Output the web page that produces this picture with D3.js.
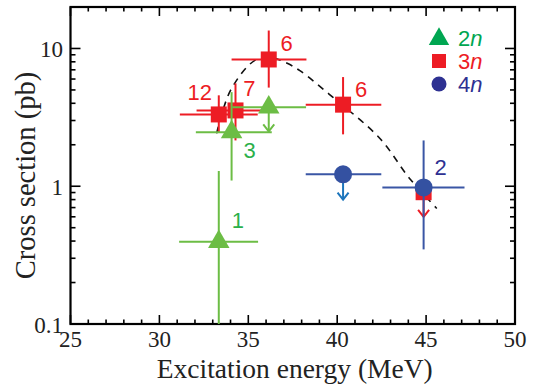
<!DOCTYPE html>
<html>
<head>
<meta charset="utf-8">
<script src="https://cdn.jsdelivr.net/npm/d3@7"></script>
<style>
  body { margin: 0; background: #fff; }
  svg { display: block; }
</style>
</head>
<body>
<div id="chart"></div>
<script>
// --- data ---
// 2n channel (green triangles)
const energy2n = [33.34, 34.06, 36.15];
const sigma2n = [0.395, 2.47, 3.74];
const energyLo2n = [31.11, 32.05, 34.10];
const energyHi2n = [35.55, 36.32, 38.25];
const sigmaLo2n = [0.1, 1.10, null];
const sigmaHi2n = [1.29, 4.82, null];
const limitTip2n = [null, null, 2.5];
const events2n = ["1", "3", ""];

// 3n channel (red squares)
const energy3n = [33.34, 34.28, 36.15, 40.33, 44.86];
const sigma3n = [3.32, 3.55, 8.32, 3.91, 0.905];
const energyLo3n = [31.15, 32.09, 34.06, 38.23, null];
const energyHi3n = [35.53, 36.49, 38.27, 42.48, null];
const sigmaLo3n = [2.46, 2.15, 5.2, 2.38, null];
const sigmaHi3n = [4.57, 5.58, 13.5, 6.2, null];
const limitTip3n = [null, null, null, null, 0.60];
const events3n = ["12", "7", "6", "6", ""];

// 4n channel (blue circles)
const energy4n = [40.33, 44.86];
const sigma4n = [1.22, 0.98];
const energyLo4n = [38.23, 42.54];
const energyHi4n = [42.48, 47.16];
const sigmaLo4n = [null, 0.348];
const sigmaHi4n = [null, 2.15];
const limitTip4n = [0.80, null];
const events4n = ["", "2"];

// dashed guide curve
const curveE = [33.22, 34.0, 35.37, 36.3, 37.1, 37.9, 39.75, 42.39, 44.07, 45.6];
const curveS = [2.42, 4.96, 8.2, 8.6, 7.9, 6.9, 4.43, 2.23, 1.14, 0.69];

const xTickLabels = [25, 30, 35, 40, 45, 50];
const yTickLabels = [0.1, 1, 10];
const legendNames = ["2", "3", "4"];

// --- layout ---
const W = 535, H = 386;
const L = 70.5, R = 515, T = 7, B = 324;

const svg = d3.select('#chart').append('svg')
    .attr('width', W)
    .attr('height', H);

const x = d3.scaleLinear().domain([25, 50]).range([L, R]);
const y = d3.scaleLog().domain([0.1, 20]).range([B, T]);

const serif = '"Liberation Serif", "Times New Roman", serif';
const sans = '"Liberation Sans", Arial, sans-serif';

const cGreen = '#6cbd45', cGreenTxt = '#2bb04a', cGreenLeg = '#00a651';
const cRed = '#ed1c24';
const cBlue = '#3a56a5', cBlueDot = '#3451a1', cBlueTxt = '#2e3192', cBlueArrow = '#1c75bc';

// ticks (inward, on all four sides)
const gTicks = svg.append('g').attr('stroke', '#000').attr('stroke-width', 1.6);
d3.range(25, 51).forEach(function(v){
    const len = v % 5 === 0 ? 9 : 4.5;
    gTicks.append('line').attr('x1', x(v)).attr('x2', x(v)).attr('y1', B).attr('y2', B - len);
    gTicks.append('line').attr('x1', x(v)).attr('x2', x(v)).attr('y1', T).attr('y2', T + len);
});
y.ticks().forEach(function(v){
    const major = Math.abs(Math.log10(v) - Math.round(Math.log10(v))) < 1e-6;
    const len = major ? 10 : 5;
    gTicks.append('line').attr('x1', L).attr('x2', L + len).attr('y1', y(v)).attr('y2', y(v));
    gTicks.append('line').attr('x1', R).attr('x2', R - len).attr('y1', y(v)).attr('y2', y(v));
});

svg.append('rect')
    .attr('x', L).attr('y', T)
    .attr('width', R - L).attr('height', B - T)
    .attr('fill', 'none')
    .attr('stroke', '#000')
    .attr('stroke-width', 2.2);

// tick labels
svg.append('g').selectAll('text')
    .data(xTickLabels)
    .enter().append('text')
    .attr('x', d => x(d))
    .attr('y', 347)
    .attr('text-anchor', 'middle')
    .attr('font-family', serif)
    .attr('font-size', 23)
    .attr('fill', '#222')
    .text(d => d);

svg.append('g').selectAll('text')
    .data(yTickLabels)
    .enter().append('text')
    .attr('x', 63)
    .attr('y', d => y(d) + 9)
    .attr('text-anchor', 'end')
    .attr('font-family', serif)
    .attr('font-size', 23)
    .attr('fill', '#222')
    .text(d => d);

// axis titles
svg.append('text')
    .attr('x', (L + R) / 2 + 2)
    .attr('y', 378)
    .attr('text-anchor', 'middle')
    .attr('font-family', serif)
    .attr('font-size', 27.5)
    .attr('fill', '#222')
    .text('Excitation energy (MeV)');

svg.append('text')
    .attr('transform', 'translate(35,' + ((T + B) / 2 + 10) + ') rotate(-90)')
    .attr('text-anchor', 'middle')
    .attr('font-family', serif)
    .attr('font-size', 28.5)
    .attr('fill', '#222')
    .text('Cross section (pb)');

// dashed guide
const line = d3.line()
    .x(d => x(d[0]))
    .y(d => y(d[1]))
    .curve(d3.curveCatmullRom.alpha(0.5));

svg.append('path')
    .datum(d3.zip(curveE, curveS))
    .attr('d', line)
    .attr('fill', 'none')
    .attr('stroke', '#111')
    .attr('stroke-width', 1.6)
    .attr('stroke-dasharray', '7,6');

function drawBars(g, E, S, Elo, Ehi, Slo, Shi, tip, col, arrowCol){
    E.forEach(function(e, i){
        if (Elo[i] !== null) {
            g.append('line')
                .attr('x1', x(Elo[i])).attr('x2', x(Ehi[i]))
                .attr('y1', y(S[i])).attr('y2', y(S[i]))
                .attr('stroke', col).attr('stroke-width', 2);
        }
        if (Slo[i] !== null) {
            g.append('line')
                .attr('x1', x(e)).attr('x2', x(e))
                .attr('y1', y(Slo[i])).attr('y2', y(Shi[i]))
                .attr('stroke', col).attr('stroke-width', 2);
        }
        if (tip[i] !== null) {
            const px = x(e), py0 = y(S[i]), py1 = y(tip[i]);
            g.append('line')
                .attr('x1', px).attr('x2', px)
                .attr('y1', py0).attr('y2', py1)
                .attr('stroke', arrowCol).attr('stroke-width', 2);
            g.append('path')
                .attr('d', d3.line()([[px - 5.5, py1 - 7], [px, py1], [px + 5.5, py1 - 7]]))
                .attr('fill', 'none')
                .attr('stroke', arrowCol).attr('stroke-width', 2);
        }
    });
}

function drawLabels(g, E, S, labels, offsets, col){
    E.forEach(function(e, i){
        if (!labels[i]) return;
        g.append('text')
            .attr('x', x(e) + offsets[i][0])
            .attr('y', y(S[i]) + offsets[i][1] + 8)
            .attr('text-anchor', 'middle')
            .attr('font-family', sans)
            .attr('font-size', 22)
            .attr('fill', col)
            .text(labels[i]);
    });
}

const triangle = d3.symbol().type(d3.symbolTriangle).size(200);

// 3n
const g3 = svg.append('g');
drawBars(g3, energy3n, sigma3n, energyLo3n, energyHi3n, sigmaLo3n, sigmaHi3n, limitTip3n, cRed, cRed);
g3.selectAll('rect.sq')
    .data(d3.range(energy3n.length))
    .enter().append('rect')
    .attr('class', 'sq')
    .attr('x', i => x(energy3n[i]) - 8)
    .attr('y', i => y(sigma3n[i]) - 8)
    .attr('width', 16).attr('height', 16)
    .attr('fill', cRed);

// 2n
const g2 = svg.append('g');
drawBars(g2, energy2n, sigma2n, energyLo2n, energyHi2n, sigmaLo2n, sigmaHi2n, limitTip2n, cGreen, cGreen);
g2.selectAll('path.tri')
    .data(d3.range(energy2n.length))
    .enter().append('path')
    .attr('class', 'tri')
    .attr('d', triangle)
    .attr('transform', i => 'translate(' + x(energy2n[i]) + ',' + y(sigma2n[i]) + ')')
    .attr('fill', cGreen);

// 4n
const g4 = svg.append('g');
drawBars(g4, energy4n, sigma4n, energyLo4n, energyHi4n, sigmaLo4n, sigmaHi4n, limitTip4n, cBlue, cBlueArrow);
g4.selectAll('circle')
    .data(d3.range(energy4n.length))
    .enter().append('circle')
    .attr('cx', i => x(energy4n[i]))
    .attr('cy', i => y(sigma4n[i]))
    .attr('r', 9)
    .attr('fill', cBlueDot);

// event-count labels (pixel offsets from each point)
drawLabels(svg, energy2n, sigma2n, events2n, [[19, -22], [18, 18], [0, 0]], cGreenTxt);
drawLabels(svg, energy3n, sigma3n, events3n, [[-19, -22], [14, -22], [18, -16], [18, -16], [0, 0]], cRed);
drawLabels(svg, energy4n, sigma4n, events4n, [[0, 0], [17, -20]], cBlueTxt);

// legend
const legCols = [cGreenLeg, cRed, cBlueTxt];
const leg = svg.append('g').attr('transform', 'translate(439,38)');
legendNames.forEach(function(n, i){
    const row = leg.append('g').attr('transform', 'translate(0,' + (i * 23) + ')');
    if (i === 0) {
        row.append('path').attr('d', d3.symbol().type(d3.symbolTriangle).size(180)).attr('transform', 'translate(0,1)').attr('fill', cGreenLeg);
    } else if (i === 1) {
        row.append('rect').attr('x', -7).attr('y', -7).attr('width', 14).attr('height', 14).attr('fill', cRed);
    } else {
        row.append('circle').attr('r', 7.5).attr('fill', cBlueTxt);
    }
    const t = row.append('text')
        .attr('x', 19)
        .attr('y', 7.5)
        .attr('font-family', sans)
        .attr('font-size', 22)
        .attr('fill', legCols[i]);
    t.append('tspan').text(n);
    t.append('tspan').attr('font-style', 'italic').text('n');
});
</script>
</body>
</html>
